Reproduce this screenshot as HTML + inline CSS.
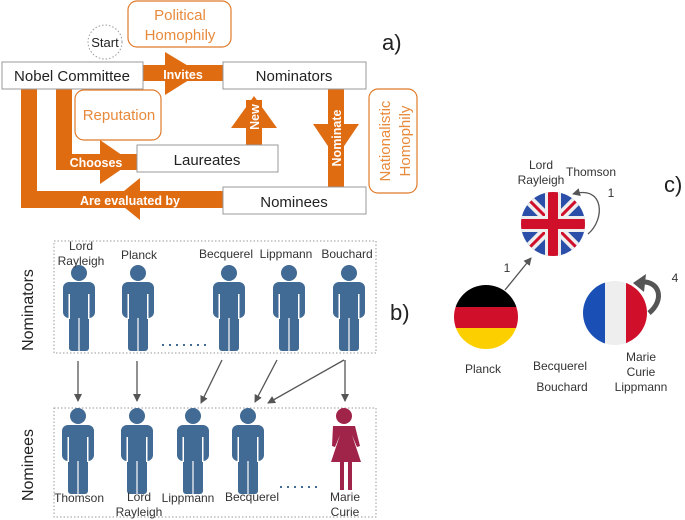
<!DOCTYPE html>
<html><head><meta charset="utf-8"><style>
body{margin:0;background:#fff}
svg{display:block;font-family:"Liberation Sans",sans-serif}
</style></head><body>
<svg width="685" height="520" viewBox="0 0 685 520">
<defs>
<g id="p">
<circle cx="0" cy="-9" r="8"/>
<rect x="-16" y="0" width="32" height="36" rx="6"/>
<rect x="-10" y="20" width="20" height="49" rx="3"/>
<rect x="-10.5" y="12" width="1.5" height="25" fill="#fff"/>
<rect x="9" y="12" width="1.5" height="25" fill="#fff"/>
<rect x="-0.6" y="36" width="1.2" height="34" fill="#fff"/>
</g>
<marker id="ah" markerWidth="8" markerHeight="8" refX="7" refY="4" orient="auto" markerUnits="userSpaceOnUse"><path d="M0,0 L8,4 L0,8 Z" fill="#555"/></marker>
<clipPath id="cu"><circle cx="553" cy="224" r="32"/></clipPath>
<clipPath id="cg"><circle cx="486" cy="317" r="32"/></clipPath>
<clipPath id="cf"><circle cx="615" cy="313" r="32"/></clipPath>
</defs>

<!-- Panel a -->
<g fill="#e06c12">
<rect x="143" y="65" width="80" height="16"/>
<polygon points="165,52 200,73 165,95"/>
<rect x="21" y="89" width="16" height="119"/>
<rect x="56" y="89" width="16" height="81"/>
<rect x="56" y="154" width="81" height="16"/>
<polygon points="100,140 132,162 100,184"/>
<rect x="21" y="191" width="202" height="17"/>
<polygon points="140,178 114,199 140,220"/>
<rect x="246" y="100" width="16" height="45"/>
<polygon points="231,128 254,96 277,128"/>
<rect x="328" y="89" width="16" height="98"/>
<polygon points="313,124 336,158 359,124"/>
</g>
<g fill="#fff" font-weight="bold" font-size="12.5">
<text x="183" y="79" text-anchor="middle">Invites</text>
<text x="96" y="167" text-anchor="middle">Chooses</text>
<text x="130" y="205" text-anchor="middle">Are evaluated by</text>
<text transform="translate(259,117) rotate(-90)" text-anchor="middle">New</text>
<text transform="translate(341,138) rotate(-90)" text-anchor="middle">Nominate</text>
</g>
<g fill="#fff" stroke="#999" stroke-width="1">
<rect x="2" y="62" width="141" height="27"/>
<rect x="223" y="62" width="143" height="27"/>
<rect x="137" y="145" width="141" height="27"/>
<rect x="223" y="187" width="143" height="27"/>
</g>
<g fill="#fff" stroke="#e07a2a" stroke-width="1.2">
<rect x="128" y="1" width="103" height="46" rx="9"/>
<rect x="75" y="90" width="86" height="50" rx="9"/>
<rect x="369" y="89" width="48" height="104" rx="9"/>
</g>
<circle cx="105" cy="42" r="17" fill="none" stroke="#999" stroke-dasharray="1.5,2"/>
<g font-size="15" fill="#222" text-anchor="middle">
<text x="105" y="47" font-size="13">Start</text>
<text x="72" y="81">Nobel Committee</text>
<text x="294" y="81">Nominators</text>
<text x="207" y="165">Laureates</text>
<text x="294" y="207">Nominees</text>
</g>
<g font-size="15" fill="#e88a3c" text-anchor="middle">
<text x="180" y="20">Political</text>
<text x="180" y="40">Homophily</text>
<text x="119" y="120">Reputation</text>
<text transform="translate(390,141) rotate(-90)">Nationalistic</text>
<text transform="translate(410,141) rotate(-90)">Homophily</text>
</g>
<text x="382" y="50" font-size="22" fill="#222">a)</text>

<!-- Panel b -->
<rect x="54" y="241" width="322" height="112" fill="none" stroke="#999" stroke-dasharray="1.5,2"/>
<rect x="54" y="408" width="322" height="109" fill="none" stroke="#999" stroke-dasharray="1.5,2"/>
<g fill="#416a94">
<use href="#p" x="79" y="282"/>
<use href="#p" x="138" y="282"/>
<use href="#p" x="229" y="282"/>
<use href="#p" x="289" y="282"/>
<use href="#p" x="349" y="282"/>
<use href="#p" x="78" y="425"/>
<use href="#p" x="137" y="425"/>
<use href="#p" x="193" y="425"/>
<use href="#p" x="248" y="425"/>
</g>
<g fill="#a0244a">
<circle cx="344" cy="416" r="8"/>
<path d="M333,426 h22 l5,20 -3,1 -5,-12 9,27 h-9 v28 h-4 v-28 h-4 v28 h-4 v-28 h-9 l9,-27 -5,12 -3,-1z"/>
</g>
<g stroke="#416a94" stroke-width="2" stroke-dasharray="2,5">
<line x1="162" y1="345" x2="206" y2="345"/>
<line x1="280" y1="487" x2="322" y2="487"/>
</g>
<g stroke="#555" stroke-width="1.3" marker-end="url(#ah)">
<line x1="78" y1="361" x2="78" y2="401"/>
<line x1="137" y1="361" x2="137" y2="401"/>
<line x1="222" y1="360" x2="201" y2="403"/>
<line x1="277" y1="360" x2="255" y2="402"/>
<line x1="344" y1="360" x2="268" y2="403"/>
<line x1="345" y1="360" x2="345" y2="401"/>
</g>
<g font-size="12" fill="#333" text-anchor="middle">
<text x="81" y="250">Lord</text><text x="81" y="265">Rayleigh</text>
<text x="139" y="259">Planck</text>
<text x="226" y="258">Becquerel</text>
<text x="286" y="258">Lippmann</text>
<text x="347" y="258">Bouchard</text>
<text x="79" y="502">Thomson</text>
<text x="139" y="501">Lord</text><text x="139" y="516">Rayleigh</text>
<text x="188" y="502">Lippmann</text>
<text x="252" y="501">Becquerel</text>
<text x="345" y="501">Marie</text><text x="345" y="516">Curie</text>
</g>
<text transform="translate(33,310) rotate(-90)" font-size="16" fill="#222" text-anchor="middle">Nominators</text>
<text transform="translate(33,465) rotate(-90)" font-size="16" fill="#222" text-anchor="middle">Nominees</text>
<text x="390" y="320" font-size="22" fill="#222">b)</text>

<!-- Panel c -->
<g clip-path="url(#cu)">
<rect x="521" y="192" width="64" height="64" fill="#2b4fa8"/>
<line x1="521" y1="192" x2="585" y2="256" stroke="#eee" stroke-width="10"/>
<line x1="585" y1="192" x2="521" y2="256" stroke="#eee" stroke-width="10"/>
<line x1="521" y1="192" x2="585" y2="256" stroke="#d0102a" stroke-width="3"/>
<line x1="585" y1="192" x2="521" y2="256" stroke="#d0102a" stroke-width="3"/>
<rect x="545" y="192" width="16" height="64" fill="#eee"/>
<rect x="521" y="216" width="64" height="16" fill="#eee"/>
<rect x="548" y="192" width="10" height="64" fill="#d0102a"/>
<rect x="521" y="219" width="64" height="10" fill="#d0102a"/>
</g>
<g clip-path="url(#cg)">
<rect x="454" y="285" width="64" height="22" fill="#000"/>
<rect x="454" y="307" width="64" height="21" fill="#d0102a"/>
<rect x="454" y="328" width="64" height="22" fill="#fcd000"/>
</g>
<g clip-path="url(#cf)">
<rect x="583" y="281" width="22" height="64" fill="#1a4fb5"/>
<rect x="605" y="281" width="21" height="64" fill="#eeeeee"/>
<rect x="626" y="281" width="22" height="64" fill="#d0102a"/>
</g>
<line x1="505" y1="290" x2="531" y2="258" stroke="#555" stroke-width="1.3" marker-end="url(#ah)"/>
<path d="M588,234 C605,220 605,185 573,194" fill="none" stroke="#555" stroke-width="1.3" marker-end="url(#ah)"/>
<path d="M649,313 C665,300 660,280 640,282" fill="none" stroke="#555" stroke-width="5"/>
<polygon points="633,283 646,274 644,292" fill="#555"/>
<g font-size="12" fill="#333" text-anchor="middle">
<text x="541" y="169">Lord</text><text x="541" y="184">Rayleigh</text>
<text x="591" y="176">Thomson</text>
<text x="611" y="197">1</text>
<text x="507" y="272">1</text>
<text x="675" y="282">4</text>
<text x="483" y="373">Planck</text>
<text x="560" y="370">Becquerel</text>
<text x="562" y="391">Bouchard</text>
<text x="641" y="361">Marie</text><text x="641" y="376">Curie</text><text x="641" y="391">Lippmann</text>
</g>
<text x="664" y="192" font-size="22" fill="#222">c)</text>
</svg>
</body></html>
